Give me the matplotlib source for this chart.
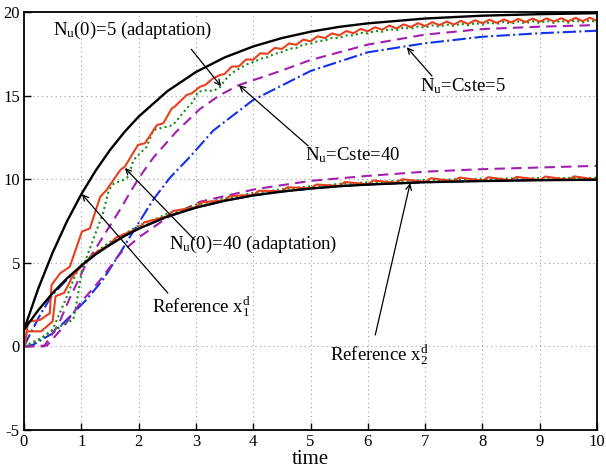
import numpy as np
import matplotlib
matplotlib.use("Agg")
import matplotlib.pyplot as plt

plt.rcParams["font.family"] = ["Liberation Serif", "DejaVu Serif"]
plt.rcParams["mathtext.fontset"] = "custom"
plt.rcParams["mathtext.rm"] = "Liberation Serif"
plt.rcParams["mathtext.it"] = "Liberation Serif"
plt.rcParams["axes.unicode_minus"] = False

# ---- reference trajectories ----
ref_t = [0, 0.25, 0.5, 0.75, 1.0, 1.25, 1.5, 1.75, 2.0, 2.5, 3.0, 3.5, 4.0,
         4.5, 5.0, 5.5, 6.0, 7.0, 8.0, 9.0, 10.0]
ref_x1 = [1.0, 3.47, 5.61, 7.48, 9.10, 10.51, 11.74, 12.81, 13.74, 15.26, 16.41,
          17.28, 17.94, 18.44, 18.82, 19.11, 19.32, 19.61, 19.78, 19.87, 19.93]
ref_x2 = [1.0, 2.17, 3.19, 4.07, 4.83, 5.51, 6.08, 6.60, 7.04, 7.76, 8.30,
          8.71, 9.03, 9.26, 9.44, 9.58, 9.68, 9.82, 9.89, 9.94, 9.97]

# ---- N_u = Cste = 40 (magenta dashed) ----
c40_x1_t = [0, 0.35, 0.6, 0.8, 1.09, 1.38, 1.68, 1.85, 2.02, 2.26, 2.66, 3.07,
            3.42, 3.75, 4.5, 5.0, 6.0, 7.0, 8.0, 9.0, 10.0]
c40_x1 = [0, 0, 1.3, 2.9, 4.98, 6.56, 8.2, 9.2, 10.15, 11.3, 12.85, 14.2,
          15.03, 15.63, 16.5, 17.13, 18.05, 18.65, 18.98, 19.12, 19.22]
c40_x2_t = [0, 0.4, 0.69, 0.98, 1.33, 1.68, 2.02, 2.5, 3.07, 4.03, 5.0, 6.0,
            7.0, 8.0, 9.0, 10.0]
c40_x2 = [0, 0.05, 1.18, 2.58, 3.97, 5.57, 6.56, 7.7, 8.65, 9.4, 9.9, 10.2,
          10.45, 10.6, 10.7, 10.8]

# ---- N_u = Cste = 5 (blue dash-dot) ----
c5_x1_t = [0, 0.16, 0.51, 0.8, 1.09, 1.38, 1.68, 1.85, 2.26, 2.55, 2.9, 3.3,
           4.0, 5.0, 6.0, 7.0, 8.0, 9.0, 10.0]
c5_x1 = [0, 0.1, 0.8, 1.78, 2.8, 4.0, 5.6, 6.56, 8.8, 10.1, 11.35, 12.9,
         14.74, 16.47, 17.59, 18.13, 18.52, 18.73, 18.88]
c5_x2_t = [0, 0.1, 0.3, 0.5, 0.75, 1.0, 1.25, 1.5, 1.75, 2.0, 2.5, 3.0, 3.5,
           4.0, 4.5, 5.0, 5.5, 6.0, 7.0, 8.0, 9.0, 10.0]
c5_x2 = [0, 0.7, 2.0, 3.1, 4.0, 4.8, 5.5, 6.07, 6.6, 7.04, 7.76, 8.3, 8.71,
         9.03, 9.26, 9.44, 9.58, 9.68, 9.82, 9.9, 9.95, 9.98]

# ---- N_u(0) = 40 with adaptation (red solid) ----
a40_x1_t = [0, 0.02, 0.07, 0.28, 0.45, 0.48, 0.63, 0.8, 1.01, 1.15, 1.33, 1.44,
            1.68, 1.76, 1.99, 2.11, 2.32, 2.43, 2.58, 2.63, 2.84, 2.93, 3.07,
            3.16, 3.3, 3.42] + list(np.linspace(3.5, 10.0, 53))
a40_x1 = [0, 0.18, 1.48, 1.58, 1.98, 3.67, 4.37, 4.77, 6.86, 7.06, 8.95, 9.35,
          10.55, 10.75, 12.05, 12.15, 13.24, 13.34, 14.24, 14.34, 15.04, 15.14,
          15.53, 15.63, 16.03, 16.23,
          16.29, 16.73, 16.75, 17.16, 17.15, 17.53, 17.50, 17.85, 17.79, 18.12,
          18.04, 18.35, 18.25, 18.55, 18.44, 18.72, 18.60, 18.86, 18.73, 18.99,
          18.84, 19.09, 18.94, 19.19, 19.02, 19.26, 19.10, 19.33, 19.16, 19.39,
          19.21, 19.43, 19.25, 19.47, 19.29, 19.51, 19.33, 19.54, 19.35, 19.56,
          19.38, 19.59, 19.40, 19.61, 19.42, 19.62, 19.43, 19.63, 19.44, 19.65,
          19.45, 19.66, 19.46]
a40_x2_t = [0, 0.05, 0.3, 0.5, 0.55, 0.7, 0.85, 1.0, 1.25,
            1.5, 1.6, 2.0, 2.1, 2.5, 2.6, 3.0, 3.1, 3.5, 3.6, 4.0, 4.1, 4.5,
            4.6, 5.0, 5.1, 5.5, 5.6, 6.0, 6.1, 6.5, 6.6, 7.0, 7.1, 7.5, 7.6,
            8.0, 8.1, 8.5, 8.6, 9.0, 9.1, 9.5, 9.6, 10.0]
a40_x2 = [0, 0.9, 0.9, 1.5, 3.0, 3.2, 4.2, 4.8, 5.6,
          6.10, 6.5, 7.06, 7.42, 7.78, 8.1, 8.32, 8.62, 8.73, 9.0, 9.05, 9.31,
          9.28, 9.52, 9.46, 9.68, 9.6, 9.83, 9.7, 9.92, 9.78, 10.0, 9.84,
          10.06, 9.88, 10.1, 9.91, 10.12, 9.93, 10.14, 9.95, 10.16, 9.96,
          10.17, 9.97]

# ---- N_u(0) = 5 with adaptation (green dotted) ----
a5_x1_t = [0, 0.1, 0.28, 0.51, 0.86, 0.92, 1.01, 1.38, 1.48, 1.57, 1.73, 1.82,
           1.91, 2.14, 2.26, 2.49, 2.6, 2.72, 2.84, 2.95, 3.04, 3.19, 3.3,
           3.42] + list(np.linspace(3.5, 10.0, 53))
a5_x1 = [0, 0.1, 0.4, 1.0, 1.6, 2.6, 4.57, 7.98, 9.35, 9.75, 9.95, 10.15,
         11.15, 11.94, 12.94, 13.14, 13.24, 13.74, 14.24, 14.63, 15.23, 15.33,
         15.27, 15.5,
         15.9, 16.35, 16.6, 16.85, 17.0, 17.2, 17.3, 17.5, 17.6, 17.8, 17.85,
         18.05, 18.1, 18.25, 18.3, 18.45, 18.45, 18.6, 18.6, 18.75, 18.72,
         18.87, 18.82, 18.97, 18.92, 19.06, 19.0, 19.13, 19.07, 19.2, 19.12,
         19.25, 19.17, 19.3, 19.21, 19.34, 19.25, 19.38, 19.28, 19.41, 19.3,
         19.43, 19.32, 19.45, 19.34, 19.47, 19.35, 19.48, 19.36, 19.5, 19.37,
         19.51, 19.38]
a5_x2_t = [0, 0.3, 0.5, 0.75, 0.9, 1.0, 1.25, 1.5, 1.75, 2.0, 2.25, 2.5, 2.75,
           3.0, 3.25, 3.5, 3.75, 4.0, 4.25, 4.5, 4.75, 5.0, 5.25, 5.5, 5.75,
           6.0, 6.25, 6.5, 6.75, 7.0, 7.25, 7.5, 7.75, 8.0, 8.25, 8.5, 8.75,
           9.0, 9.25, 9.5, 9.75, 10.0]
a5_x2 = [0, 0.5, 1.0, 3.0, 4.3, 4.9, 5.62, 6.25, 6.72, 7.22, 7.55, 7.93, 8.17,
         8.46, 8.64, 8.87, 9.0, 9.18, 9.27, 9.4, 9.47, 9.58, 9.62, 9.72, 9.75,
         9.82, 9.84, 9.9, 9.91, 9.96, 9.96, 10.0, 10.0, 10.03, 10.02, 10.05,
         10.04, 10.07, 10.05, 10.08, 10.06, 10.09]

RED = "#e8401c"
GREEN = "#1a8c1a"
MAGENTA = "#a21fb0"
BLUE = "#1432e8"

fig = plt.figure(figsize=(6.06, 4.68), dpi=100)
ax = fig.add_axes([24 / 606, 38 / 468, 573 / 606, 418 / 468])

lw = 1.5
ax.plot(c5_x1_t, c5_x1, color=BLUE, lw=lw, ls="-.")
ax.plot(c5_x2_t, c5_x2, color=BLUE, lw=lw, ls="-.")
ax.plot(c40_x1_t, c40_x1, color=MAGENTA, lw=lw, ls=(0, (5, 3)))
ax.plot(c40_x2_t, c40_x2, color=MAGENTA, lw=lw, ls=(0, (5, 3)))
ax.plot(a5_x1_t, a5_x1, color=GREEN, lw=lw, ls=(0, (1, 1.5)))
ax.plot(a5_x2_t, a5_x2, color=GREEN, lw=lw, ls=(0, (1, 1.5)))
ax.plot(a40_x1_t, a40_x1, color=RED, lw=lw)
ax.plot(a40_x2_t, a40_x2, color=RED, lw=lw)
ax.plot(ref_t, ref_x1, color="black", lw=1.7)
ax.plot(ref_t, ref_x2, color="black", lw=1.7)

ax.set_xlim(0, 10)
ax.set_ylim(-5, 20)
ax.set_xticks(range(0, 11))
ax.set_yticks([-5, 0, 5, 10, 15, 20])
ax.grid(True, color="#a0a0a0", ls=(0, (1, 3)), lw=0.8)
ax.tick_params(direction="in", length=5, labelsize=12, width=1, pad=3)
for s in ax.spines.values():
    s.set_linewidth(1.3)
ax.set_xlabel("time", fontsize=15, labelpad=0)

fs = 13.5
arrow = dict(arrowstyle="->", color="black", lw=0.9, shrinkA=0, shrinkB=0)
ax.text(0.51, 18.92, r"N$_{\mathrm{u}}$(0)=5 (adaptation)", fontsize=fs, va="center")
ax.annotate("", xy=(3.44, 15.56), xytext=(2.92, 17.77), arrowprops=arrow)
ax.text(6.91, 15.57, r"N$_{\mathrm{u}}$=Cste=5", fontsize=fs, va="center")
ax.annotate("", xy=(6.68, 17.89), xytext=(7.12, 16.17), arrowprops=arrow)
ax.text(4.9, 11.45, r"N$_{\mathrm{u}}$=Cste=40", fontsize=fs, va="center")
ax.annotate("", xy=(3.75, 15.62), xytext=(4.96, 11.99), arrowprops=arrow)
ax.text(2.53, 6.07, r"N$_{\mathrm{u}}$(0)=40 (adaptation)", fontsize=fs, va="center")
ax.annotate("", xy=(1.76, 10.67), xytext=(2.98, 6.36), arrowprops=arrow)
ax.text(2.23, 2.36, r"Reference x$^{\mathrm{d}}_{\mathrm{1}}$", fontsize=fs, va="center")
ax.annotate("", xy=(1.01, 9.11), xytext=(2.51, 3.19), arrowprops=arrow)
ax.text(5.34, -0.5, r"Reference x$^{\mathrm{d}}_{\mathrm{2}}$", fontsize=fs, va="center")
ax.annotate("", xy=(6.74, 9.77), xytext=(6.13, 0.68), arrowprops=arrow)

fig.savefig("out.png", dpi=100)
